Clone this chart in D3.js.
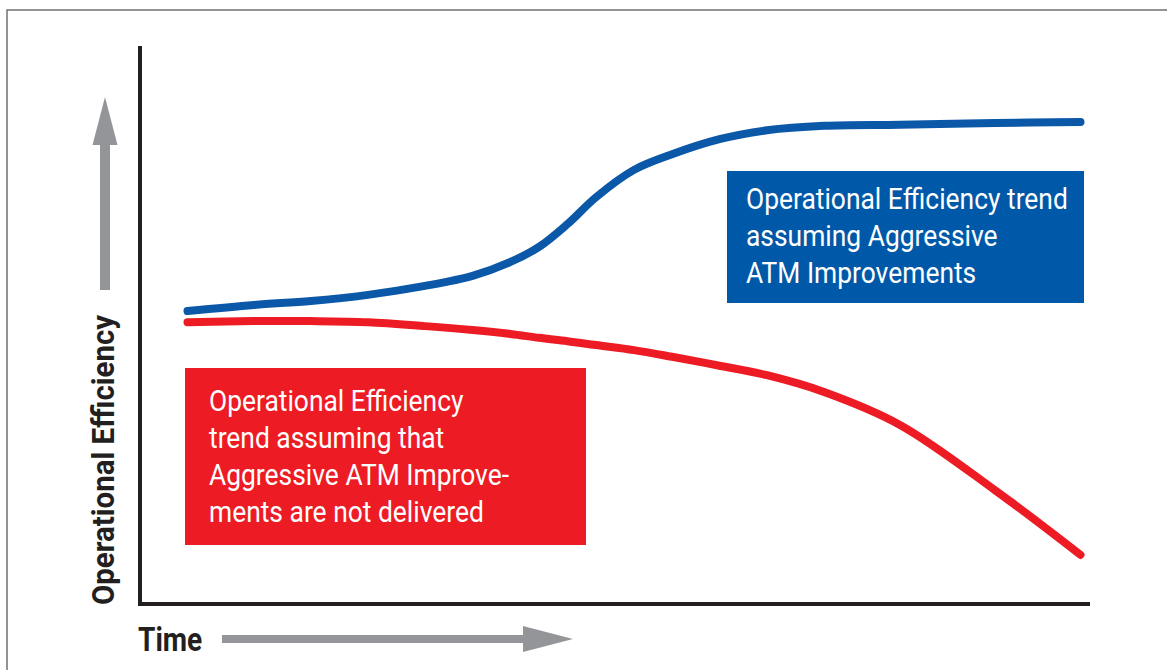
<!DOCTYPE html>
<html>
<head>
<meta charset="utf-8">
<script src="https://cdn.jsdelivr.net/npm/d3@7"></script>
<style>
  html, body { margin: 0; padding: 0; background: #fff; }
  svg { display: block; }
  text { font-family: "Liberation Sans Narrow", "Roboto", "Liberation Sans", sans-serif; }
</style>
</head>
<body>
<div id="chart"></div>
<script>
// time steps (0 = origin, 100 = end of axis)
const time = [5, 12, 18, 24, 30, 35, 39, 42, 45, 48, 52, 56, 61, 66, 72, 80, 90, 99];

// efficiency with aggressive ATM improvements
const blueTrend = [52.5, 53.6, 54.3, 55.4, 57.0, 58.8, 61.3, 64.0, 68.1, 72.9, 77.8, 80.6, 83.3, 84.9, 85.7, 85.9, 86.2, 86.4];

// efficiency when improvements are not delivered
const redTrend = [50.5, 50.7, 50.7, 50.5, 49.8, 49.1, 48.4, 47.7, 47.1, 46.4, 45.5, 44.3, 42.7, 41.0, 38.0, 32.1, 20.4, 8.8];

const blueLabel = ["Operational Efficiency trend", "assuming Aggressive", "ATM Improvements"];
const redLabel = ["Operational Efficiency", "trend assuming that", "Aggressive ATM Improve-", "ments are not delivered"];

const W = 1167, H = 670;

const svg = d3.select("#chart")
    .append("svg")
    .attr("width", W)
    .attr("height", H);

// squeeze text horizontally to mimic a condensed face
function condense(sel, k) {
    sel.each(function () {
        const len = this.getComputedTextLength();
        d3.select(this)
            .attr("textLength", len * k)
            .attr("lengthAdjust", "spacingAndGlyphs");
    });
}

// outer frame
svg.append("path")
    .attr("d", `M7,${H} L7,10 L${W},10`)
    .attr("fill", "none")
    .attr("stroke", "#707070")
    .attr("stroke-width", 1.5);

const x = d3.scaleLinear().domain([0, 100]).range([140, 1090]);
const y = d3.scaleLinear().domain([0, 100]).range([604, 46]);

// axes (no ticks, just the two lines)
svg.append("path")
    .attr("d", `M${x(0)},${y(100)} L${x(0)},${y(0)} L${x(100)},${y(0)}`)
    .attr("fill", "none")
    .attr("stroke", "#231f20")
    .attr("stroke-width", 4);

// trend lines
const line = d3.line()
    .x((d, i) => x(time[i]))
    .y(d => y(d))
    .curve(d3.curveCatmullRom);

svg.append("path")
    .attr("d", line(redTrend))
    .attr("fill", "none")
    .attr("stroke", "#ed1c24")
    .attr("stroke-width", 8)
    .attr("stroke-linecap", "round");

svg.append("path")
    .attr("d", line(blueTrend))
    .attr("fill", "none")
    .attr("stroke", "#0b57a8")
    .attr("stroke-width", 8)
    .attr("stroke-linecap", "round");

// label boxes
function labelBox(x0, y0, w, h, fill, lines, tx, ty, lh) {
    svg.append("rect")
        .attr("x", x0).attr("y", y0)
        .attr("width", w).attr("height", h)
        .attr("fill", fill);
    svg.append("g").selectAll("text")
        .data(lines)
        .enter()
        .append("text")
        .attr("x", tx)
        .attr("y", (d, i) => ty + i * lh)
        .attr("fill", "#fff")
        .style("font-size", "30px")
        .text(d => d)
        .call(condense, 0.88);
}

labelBox(727, 171, 357, 132, "#0059a8", blueLabel, 746, 209, 37);
labelBox(185, 368, 401, 177, "#ed1c24", redLabel, 209, 411, 37);

// gray arrows
const gray = "#939598";

// y arrow
svg.append("rect")
    .attr("x", 100).attr("y", 140)
    .attr("width", 10).attr("height", 150)
    .attr("fill", gray);
svg.append("path")
    .attr("d", "M105,97 L117.5,145 L92.5,145 Z")
    .attr("fill", gray);

// time arrow
svg.append("rect")
    .attr("x", 222).attr("y", 635)
    .attr("width", 305).attr("height", 8)
    .attr("fill", gray);
svg.append("path")
    .attr("d", "M573,639 L523,626 L523,652 Z")
    .attr("fill", gray);

// axis titles
svg.append("text")
    .attr("x", 138)
    .attr("y", 651)
    .attr("fill", "#231f20")
    .style("font-size", "33px")
    .style("font-weight", "bold")
    .text("Time")
    .call(condense, 0.85);

svg.append("text")
    .attr("transform", "translate(114,605) rotate(-90)")
    .attr("fill", "#231f20")
    .style("font-size", "32px")
    .style("font-weight", "bold")
    .text("Operational Efficiency")
    .call(condense, 0.92);
</script>
</body>
</html>
